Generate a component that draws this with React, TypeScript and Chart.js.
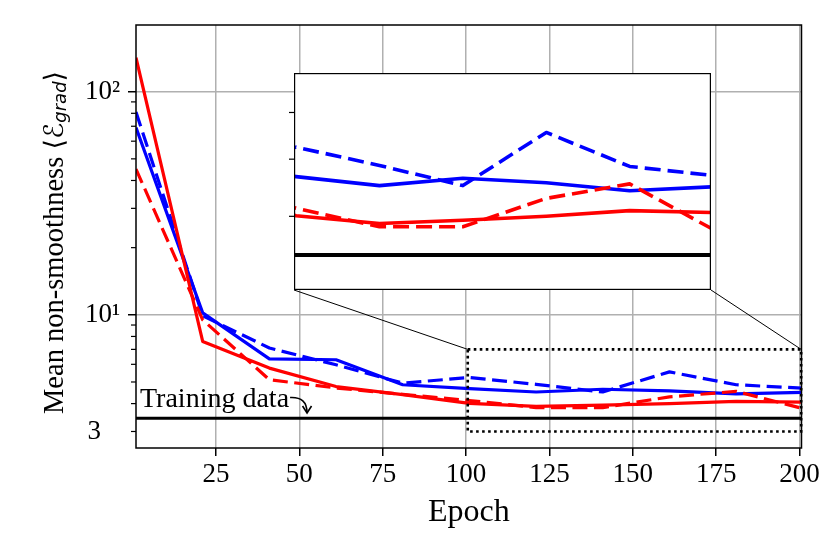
import React, { useEffect, useRef } from 'react';
import { Chart, registerables } from 'chart.js';

Chart.register(...registerables);

// epochs sampled every 20
const epochs = [1, 21, 41, 61, 81, 101, 121, 141, 161, 181, 201];
const blueSolid = [69, 10.2, 6.35, 6.29, 4.86, 4.67, 4.51, 4.64, 4.56, 4.42, 4.49];
const blueDashed = [81, 9.9, 7.1, 5.97, 4.94, 5.24, 4.88, 4.51, 5.55, 4.86, 4.69];
const redSolid = [142, 7.6, 5.77, 4.77, 4.39, 4.01, 3.89, 3.94, 4.0, 4.09, 4.06];
const redDashed = [45, 9.5, 5.12, 4.7, 4.4, 4.13, 3.84, 3.84, 4.29, 4.54, 3.8];
const trainingLevel = 3.44;

const xTicks = [25, 50, 75, 100, 125, 150, 175, 200];
const yMajorTicks = [10, 100];
const yMinorTicks = [3, 4, 5, 6, 7, 8, 9, 20, 30, 40, 50, 60, 70, 80, 90];
const yLabelValues = [3, 10, 100];
const yLabelTexts = ['3\u2002\u2009', '10\u00b9', '10\u00b2'];
const insetYTicks = [4, 5, 6];

const xRange = [1, 200.6];
const yRange = [2.53, 199];
const zoomX = [100.5, 200.5];
const zoomY = [3, 7];

// annotation anchor points, in data units
const annotText = [2.2, 3.88];
const annotTip = [52.3, 3.63];

const SERIF = "'Liberation Serif', 'Times New Roman', serif";
const INSET = { left: 294, top: 73, width: 417, height: 217 };
const INSET_TICK = 6;

const makeDatasets = (lw: number, dash: number[], blackLw: number) => {
  const pts = (arr: number[]) => arr.map((v, i) => ({ x: epochs[i], y: v }));
  const common = { pointRadius: 0, tension: 0, borderJoinStyle: 'round' as const, clip: 0, fill: false };
  return [
    { ...common, data: pts(redDashed), borderColor: '#ff0000', borderWidth: lw, borderDash: dash },
    { ...common, data: pts(redSolid), borderColor: '#ff0000', borderWidth: lw },
    { ...common, data: pts(blueDashed), borderColor: '#0000ff', borderWidth: lw, borderDash: dash },
    { ...common, data: pts(blueSolid), borderColor: '#0000ff', borderWidth: lw },
    {
      ...common,
      data: [
        { x: epochs[0], y: trainingLevel },
        { x: epochs[epochs.length - 1], y: trainingLevel },
      ],
      borderColor: '#000',
      borderWidth: blackLw,
    },
  ];
};

const line = (ctx: CanvasRenderingContext2D, x0: number, y0: number, x1: number, y1: number) => {
  ctx.beginPath();
  ctx.moveTo(x0, y0);
  ctx.lineTo(x1, y1);
  ctx.stroke();
};

const mainDecor = {
  id: 'mainDecor',
  afterDraw(chart: any) {
    const { ctx, chartArea: a, scales } = chart;
    const x = scales.x;
    const y = scales.y;
    ctx.save();

    // minor ticks on the log axis
    ctx.strokeStyle = '#000';
    ctx.lineWidth = 1.2;
    yMinorTicks.forEach((v) => {
      const py = y.getPixelForValue(v);
      line(ctx, a.left - 5, py, a.left, py);
    });

    // frame
    ctx.lineWidth = 1.5;
    ctx.strokeRect(a.left, a.top, a.right - a.left, a.bottom - a.top);

    // zoomed region
    const bx0 = x.getPixelForValue(zoomX[0]);
    const bx1 = x.getPixelForValue(zoomX[1]);
    const by0 = y.getPixelForValue(zoomY[1]);
    const by1 = y.getPixelForValue(zoomY[0]);
    ctx.setLineDash([2.6, 3.4]);
    ctx.lineWidth = 2.6;
    ctx.strokeRect(bx0, by0, bx1 - bx0, by1 - by0);
    ctx.setLineDash([]);

    // connectors to the inset
    ctx.lineWidth = 1;
    line(ctx, INSET.left, INSET.top + INSET.height, bx0, by0);
    line(ctx, INSET.left + INSET.width, INSET.top + INSET.height, bx1, by0);

    // "Training data" annotation
    ctx.font = `28px ${SERIF}`;
    ctx.fillStyle = '#000';
    ctx.textAlign = 'left';
    ctx.textBaseline = 'alphabetic';
    const tx = x.getPixelForValue(annotText[0]);
    const ty = y.getPixelForValue(annotText[1]);
    ctx.fillText('Training data', tx, ty);
    const sx = tx + ctx.measureText('Training data').width + 1;
    const sy = ty - 9;
    const ex = x.getPixelForValue(annotTip[0]);
    const ey = y.getPixelForValue(annotTip[1]);
    ctx.lineWidth = 1.6;
    ctx.beginPath();
    ctx.moveTo(sx, sy);
    ctx.quadraticCurveTo(ex, sy - 1, ex, ey);
    ctx.stroke();
    ctx.beginPath();
    ctx.moveTo(ex - 4.5, ey - 7);
    ctx.lineTo(ex, ey);
    ctx.lineTo(ex + 4.5, ey - 7);
    ctx.stroke();

    // y axis title with math part
    ctx.translate(63, 414);
    ctx.rotate(-Math.PI / 2);
    let cx = 0;
    const seg = (text: string, font: string, dy = 0) => {
      ctx.font = font;
      ctx.fillText(text, cx, dy);
      cx += ctx.measureText(text).width;
    };
    seg('Mean non-smoothness ', `28.5px ${SERIF}`);
    seg('\u27e8', "27px 'DejaVu Sans'");
    seg('\u2130', "27px 'DejaVu Sans'");
    seg('grad', "italic 18px 'DejaVu Sans'", 3);
    seg('\u27e9', "27px 'DejaVu Sans'");

    ctx.restore();
  },
};

const insetDecor = {
  id: 'insetDecor',
  beforeDraw(chart: any) {
    const { ctx, chartArea: a } = chart;
    ctx.save();
    ctx.fillStyle = '#fff';
    ctx.fillRect(a.left, a.top, a.right - a.left, a.bottom - a.top);
    ctx.restore();
  },
  afterDraw(chart: any) {
    const { ctx, chartArea: a, scales } = chart;
    ctx.save();
    ctx.strokeStyle = '#000';
    ctx.lineWidth = 1.2;
    insetYTicks.forEach((v) => {
      const py = scales.y.getPixelForValue(v);
      line(ctx, a.left - 5, py, a.left, py);
    });
    ctx.strokeRect(a.left + 0.6, a.top + 0.6, a.right - a.left - 1.2, a.bottom - a.top - 1.2);
    ctx.restore();
  },
};

const App: React.FC = () => {
  const mainRef = useRef<HTMLCanvasElement | null>(null);
  const insetRef = useRef<HTMLCanvasElement | null>(null);

  useEffect(() => {
    if (!mainRef.current || !insetRef.current) return;

    const main = new Chart(mainRef.current, {
      type: 'line',
      data: { datasets: makeDatasets(3.2, [15, 6.5], 3.2) as any },
      options: {
        responsive: false,
        animation: false,
        events: [],
        layout: { padding: { left: 0, right: 28.5, top: 25, bottom: 0 } },
        plugins: { legend: { display: false }, tooltip: { enabled: false } },
        scales: {
          x: {
            type: 'linear',
            min: xRange[0],
            max: xRange[1],
            afterBuildTicks: (s: any) => {
              s.ticks = xTicks.map((v) => ({ value: v }));
            },
            afterFit: (s: any) => {
              s.height = 92;
            },
            border: { display: false },
            grid: { color: '#b0b0b0', lineWidth: 1.5, tickColor: '#000', tickLength: 8, tickWidth: 1.5 },
            ticks: {
              autoSkip: false,
              maxRotation: 0,
              padding: 3,
              color: '#000',
              font: { family: SERIF, size: 27 },
              callback: (v: any) => String(v),
            },
            title: {
              display: true,
              text: 'Epoch',
              color: '#000',
              font: { family: SERIF, size: 32 },
              padding: { top: 0, bottom: 8 },
            },
          },
          y: {
            type: 'logarithmic',
            min: yRange[0],
            max: yRange[1],
            afterBuildTicks: (s: any) => {
              s.ticks = [...yMinorTicks, ...yMajorTicks]
                .sort((p, q) => p - q)
                .map((v) => ({ value: v, major: yMajorTicks.includes(v) }));
            },
            afterFit: (s: any) => {
              s.width = 136;
            },
            border: { display: false },
            grid: {
              color: (c: any) => (yMajorTicks.includes(c.tick?.value) ? '#b0b0b0' : 'rgba(0,0,0,0)'),
              tickColor: (c: any) => (yMajorTicks.includes(c.tick?.value) ? '#000' : 'rgba(0,0,0,0)'),
              lineWidth: 1.5,
              tickLength: 8,
              tickWidth: 1.5,
            },
            ticks: {
              autoSkip: false,
              padding: 8,
              color: '#000',
              font: { family: SERIF, size: 27 },
              callback: (v: any) => {
                const i = yLabelValues.indexOf(Number(v));
                return i >= 0 ? yLabelTexts[i] : '';
              },
            },
          },
        },
      },
      plugins: [mainDecor],
    });

    const inset = new Chart(insetRef.current, {
      type: 'line',
      data: { datasets: makeDatasets(3.6, [16, 7], 4) as any },
      options: {
        responsive: false,
        animation: false,
        events: [],
        layout: { padding: 0 },
        plugins: { legend: { display: false }, tooltip: { enabled: false } },
        scales: {
          x: { type: 'linear', min: zoomX[0], max: zoomX[1], display: false },
          y: {
            type: 'logarithmic',
            min: zoomY[0],
            max: zoomY[1],
            afterFit: (s: any) => {
              s.width = INSET_TICK;
            },
            border: { display: false },
            grid: { display: false },
            ticks: { display: false },
          },
        },
      },
      plugins: [insetDecor],
    });

    return () => {
      main.destroy();
      inset.destroy();
    };
  }, []);

  return (
    <div style={{ position: 'absolute', left: 0, top: 0, width: 830, height: 540, background: '#fff' }}>
      <canvas ref={mainRef} width={830} height={540} style={{ position: 'absolute', left: 0, top: 0 }} />
      <canvas
        ref={insetRef}
        width={INSET.width + INSET_TICK}
        height={INSET.height}
        style={{ position: 'absolute', left: INSET.left - INSET_TICK, top: INSET.top }}
      />
    </div>
  );
};

export default App;
